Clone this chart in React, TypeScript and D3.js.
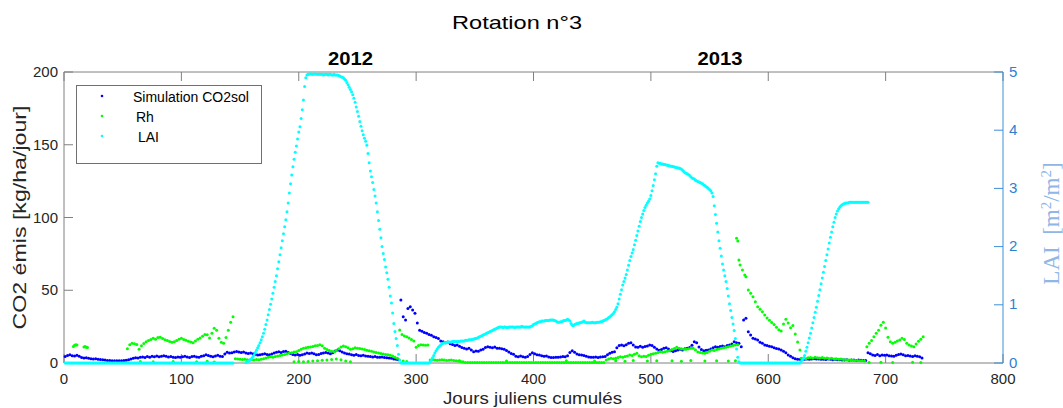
import React from 'react';
import * as d3 from 'd3';

// ---------- axes / labels ----------
const xTicks = [0, 100, 200, 300, 400, 500, 600, 700, 800];
const yLeftTicks = [0, 50, 100, 150, 200];
const yRightTicks = [0, 1, 2, 3, 4, 5];
const titleText = 'Rotation n°3';
const yearLabels = [
  { label: '2012', day: 244 },
  { label: '2013', day: 559 },
];
const legendLabels = ['Simulation CO2sol', 'Rh', 'LAI'];

// ---------- Simulation CO2sol (kg/ha/jour), every 2 days ----------
const co2solA = { start: 1, step: 2, values: [
  4.5,5.2,5.6,5.0,4.8,5.4,4.6,3.8,3.4,3.6,
  3.2,3.0,2.8,2.9,2.6,2.4,2.2,2.0,1.8,1.7,
  1.6,1.5,1.6,1.5,1.6,1.7,1.9,2.3,2.8,3.2,
  3.6,3.4,3.9,4.2,3.8,4.4,4.0,4.6,4.3,4.8,
  4.3,4.6,5.0,4.7,4.2,4.5,4.0,3.7,4.1,3.9] };
const co2solB = { start: 101, step: 2, values: [
  4.3,4.6,4.1,3.8,4.4,4.7,4.2,4.0,4.6,5.0,
  5.6,5.2,4.6,4.3,4.8,5.4,4.6,4.4,6.2,7.4,
  6.8,7.0,7.5,7.9,7.6,7.2,7.5,6.8,6.6,6.9,
  6.3,5.8,5.5,5.6,6.0,6.4,5.9,5.6,6.2,6.8,
  7.4,7.8,7.2,7.9,8.0,7.3,6.6,5.8,5.5,5.9] };
const co2solC = { start: 201, step: 2, values: [
  5.4,5.6,6.2,6.8,6.5,6.9,6.4,5.6,5.8,6.6,
  6.9,7.3,6.8,6.4,7.0,8.2,8.9,8.4,7.6,6.8,
  6.4,6.1,5.6,5.4,5.8,5.2,5.0,5.3,4.8,4.7,
  4.5,4.2,4.4,4.0,3.9,4.2,3.8,3.6,3.5,3.2,
  2.8,2.5,2.3,43.3,31.8,29.5,37.5,38.7,36.5,34.2] };
const co2solD = { start: 301, step: 2, values: [
  27.5,22.5,21.8,21.0,20.4,19.6,19.0,18.0,17.5,16.8,
  15.2,14.6,14.0,14.4,13.2,12.8,12.0,12.4,11.5,10.6,
  10.2,9.6,10.1,9.0,7.8,8.3,8.0,8.9,9.5,10.6,
  11.2,10.8,10.4,11.0,10.2,10.1,9.8,9.4,8.6,7.5,
  6.6,6.0,4.6,4.3,4.8,4.3,3.9,4.5,5.8,7.0] };
const co2solE = { start: 401, step: 2, values: [
  6.4,5.6,5.5,5.0,4.6,4.8,4.2,3.8,3.7,4.0,
  3.9,4.2,4.4,4.3,5.0,7.2,8.5,7.4,6.2,5.6,
  5.5,5.2,4.6,4.2,4.0,3.9,4.1,3.8,4.2,4.3,
  4.5,5.6,6.7,7.4,7.8,10.5,12.0,12.4,11.8,12.6,
  13.6,14.0,12.4,11.0,10.8,11.5,10.8,11.4,11.7,12.4] };
const co2solF = { start: 501, step: 2, values: [
  12.0,10.8,9.6,8.7,9.2,10.1,10.5,9.6,8.4,7.9,
  8.5,8.9,9.4,9.0,9.8,10.1,10.6,12.2,14.6,14.0,
  11.0,9.2,8.5,8.8,9.0,9.6,10.4,11.2,10.8,11.4,
  11.7,11.2,12.0,12.4,13.0,14.6,14.0,13.5,11.2,29.5,
  30.7,21.5,19.2,17.0,16.5,15.8,14.2,13.5,12.4,12.0] };
const co2solG = { start: 601, step: 2, values: [
  11.5,11.2,10.4,10.0,9.6,8.9,8.0,7.0,5.5,4.6,
  3.6,3.0,2.6,2.5,2.4,2.6,2.8,2.5,2.7,2.9,
  2.7,2.8,2.5,2.6,2.4,2.7,2.5,2.3,2.5,2.2,
  2.3,2.1,2.0,2.2,1.9,2.0,2.1,1.8,2.0,1.9,
  1.8,1.7,7.1,6.4,5.5,5.2,5.8,5.0,5.5,5.3] };
const co2solH = { start: 701, step: 2, values: [
  5.5,5.0,4.8,4.6,5.4,5.8,6.2,5.6,4.9,5.2,
  4.8,4.5,5.0,4.6,4.3,3.4] };
const co2solSeries = [co2solA, co2solB, co2solC, co2solD, co2solE, co2solF, co2solG, co2solH];

// ---------- Rh (kg/ha/jour) ----------
const rhA = { start: 8, step: 1, values: [11.4,12.2,12.6,12.4] };
const rhB = { start: 17, step: 1, values: [11.0,11.3,10.8,10.6] };
const rhC = { start: 54, step: 2, values: [
  9.8,12.6,13.6,13.2,12.8,9.4,11.8,13.4,14.6,15.4,
  16.2,17.0,16.4,17.6,17.7,16.8,16.0,15.4,14.8,14.2,
  14.6,15.4,16.4,17.0,16.2,15.6,15.0,14.4,14.0,15.2,
  16.4,17.2,18.4,19.6,19.4,17.2,20.5,23.8,22.5,17.0,
  14.2,13.5,17.6,22.5,28.0,31.8] };
const rhD = { start: 146, step: 2, values: [
  3.0,2.8,2.6,2.4,2.6,2.2,2.0,2.3,2.1,2.4,
  2.2,2.6,3.0,3.4,3.9,4.3,4.0,4.5,4.8,5.2,
  5.5,5.8,6.3,6.8,7.0,7.6,7.8,8.6,9.4,10.1,
  10.4,10.8,11.0,11.4,11.8,12.0,12.6,11.8,10.1,9.2,
  8.6,8.0,7.8,8.6,9.8,11.0,11.7,11.2,10.4,9.4,
  9.8,10.4,10.1,10.0,9.6,9.2,8.8,8.5,8.0,7.6,
  7.2,6.8,6.5,6.2,5.9,5.6,5.4,4.8,4.0,3.2] };
const rhE = { start: 196, step: 4, values: [0.8,1.0,0.9,1.0,1.3,1.6,1.9,2.1,2.4,2.7,2.2,1.4,0.9] };
const rhF = { start: 286, step: 2, values: [22.7,19.6,18.6,18.0,17.2,16.2,15.2,10.8,12.0,12.6,12.4,12.2,12.4] };
const rhG = { start: 312, step: 2, values: [2.0,2.2,2.1,1.9,2.0,2.2,2.1,1.8,1.9,2.0,1.7,1.5,1.3,1.0,0.8] };
const rhH = { start: 342, step: 2, values: [
  0.4,0.3,0.3,0.4,0.3,0.3,0.3,0.4,0.3,0.3,
  0.3,0.4,0.3,0.3,0.3,0.3,0.4,0.3,0.3,0.3,
  0.3,0.3,0.4,0.3,0.3,0.3,0.3,0.3,0.4,0.3,
  0.3,0.3,0.3,0.4,0.3,0.3,0.3,0.3,0.3,0.4,
  0.3,0.3,0.3,0.3,0.4,0.3,0.3,0.3,0.3,0.3,
  0.4,0.3,0.3,0.3,0.3,0.4,0.3,0.3,0.3,0.3] };
const rhI = { start: 462, step: 2, values: [
  2.1,2.8,3.2,3.0,3.3,3.8,4.3,4.0,4.4,4.8,
  5.5,5.2,6.0,6.7,5.0,4.3,4.6,4.4,5.4,6.0,
  6.4,6.7,7.2,7.8,7.4,7.8,8.0,8.5,9.2,10.0,
  10.8,10.2,9.8,9.4,9.4,9.8,10.1,10.1,9.0,7.6,
  7.2,6.8,6.7,7.2,8.0,8.9,8.6,9.2,9.6,10.1,
  10.4,10.8,11.2,11.7,12.0,12.4,12.6] };
const rhK = { start: 628, step: 2, values: [
  3.2,3.4,3.0,3.6,3.8,3.5,3.9,3.6,3.4,3.8,
  3.2,3.4,3.0,3.2,2.8,3.0,2.6,2.8,2.4,2.2,
  2.0,2.1,1.9,1.8,1.7,1.6,1.5,1.4] };
const rhL = { start: 684, step: 2, values: [
  11.2,13.5,15.4,18.0,20.5,22.5,26.0,28.0,24.0,17.7,
  14.6,13.5,14.2,15.2,15.8,17.0,16.2,13.5,12.4,11.6,
  11.2,13.0,15.0,16.4,18.0] };
const rhJDays = [573,574,575,576,578,580,581,583,585,587,589,591,593,595,597,599,601,603,605,607,609,611,613,615,617,619,621,623,625,627];
const rhJVals = [85.7,83.8,70.8,67.4,63.9,60.5,59.3,50.2,48.0,45.6,42.1,38.7,37.0,35.2,33.0,31.0,29.4,27.8,26.5,24.6,22.8,22.0,26.8,30.0,27.5,24.2,25.8,20.0,14.5,9.0];
const rhLowDays = [65,76,93,113,122,128,289,292,337,377,428,452,470,478,485,497,505,518,526,534,546,556,566,572,686,696,706,723,730];
const rhLowVals = [1.0,0.8,1.1,0.9,1.2,0.7,1.4,1.0,1.6,1.4,1.5,1.3,1.6,1.2,1.8,1.4,1.5,1.6,1.2,1.8,1.4,1.6,1.3,1.5,0.4,0.5,0.4,0.5,0.4];
const rhSeries = [rhA, rhB, rhC, rhD, rhE, rhF, rhG, rhH, rhI, rhK, rhL];

// ---------- LAI (m2/m2), daily ----------
const laiA = { start: 1, step: 1, values: [
  0,0,0,0,0,0,0,0,0,0, 0,0,0,0,0,0,0,0,0,0, 0,0,0,0,0,0,0,0,0,0,
  0,0,0,0,0,0,0,0,0,0, 0,0,0,0,0,0,0,0,0,0, 0,0,0,0,0,0,0,0,0,0,
  0,0,0,0,0,0,0,0,0,0, 0,0,0,0,0,0,0,0,0,0, 0,0,0,0,0,0,0,0,0,0,
  0,0,0,0,0,0,0,0,0,0, 0,0,0,0,0,0,0,0,0,0, 0,0,0,0,0,0,0,0,0,0,
  0,0,0,0,0,0,0,0,0,0, 0,0,0,0,0,0,0,0,0,0, 0,0,0,0] };
const laiB = { start: 155, step: 1, values: [
  0.01,0.02,0.03,0.04,0.06,0.08,0.11,0.14,0.18,0.22,
  0.26,0.3,0.35,0.4,0.45,0.51,0.58,0.66,0.74,0.83,
  0.92,1.01,1.1,1.2,1.3,1.4,1.5,1.62,1.74,1.86,
  1.98,2.1,2.22,2.34,2.46,2.6,2.75,2.92,3.08,3.23,
  3.37,3.5,3.62,3.73,3.85,3.97,4.06,4.2,4.35,4.52,
  4.75,4.9,4.95] };
const laiC = { start: 208, step: 1, values: [
  4.96,4.96,4.97,4.96,4.96,4.96,4.97,4.96,4.96,4.96,
  4.96,4.96,4.96,4.95,4.96,4.96,4.96,4.95,4.96,4.96,
  4.95,4.95,4.96,4.95,4.95] };
const laiD = { start: 233, step: 1, values: [
  4.95,4.94,4.93,4.92,4.91,4.9,4.88,4.86,4.82,4.78,
  4.74,4.7,4.66,4.61,4.55,4.48,4.4,4.32,4.24,4.15,
  4.07,3.99,3.92,3.86,3.81,3.74,3.6,3.44,3.3,3.2,
  3.1,2.98,2.87,2.75,2.6,2.45,2.3,2.15,2.0,1.88,
  1.78,1.65,1.55,1.44,1.3,1.15,1.03,0.86,0.68,0.54,
  0.42,0.3,0.15,0.05,0] };
const laiE = { start: 288, step: 1, values: [
  0,0,0,0,0,0,0,0,0,0, 0,0,0,0,0,0,0,0,0,0, 0,0,0,0] };
const laiF = { start: 312, step: 1, values: [
  0.02,0.05,0.09,0.13,0.17,0.21,0.24,0.27,0.29,0.31,
  0.33,0.34,0.35,
  0.35,0.35,0.36,0.36,0.36,0.36,0.37,0.37,0.37,0.37,
  0.37,0.37,0.37,0.38,0.38,0.38,0.38,0.39,0.39,0.39,
  0.4,0.4,0.4,0.41,0.41,0.42,0.42,
  0.43,0.44,0.45,0.46,0.47,0.48,0.49,0.5,0.51,0.52,
  0.53,0.54,0.55,0.56,0.57,0.58,0.59,0.6,0.61,0.62] };
const laiG = { start: 372, step: 1, values: [
  0.62,0.62,0.61,0.62,0.62,0.61,0.61,0.62,0.62,0.62,
  0.62,0.62,0.61,0.62,0.62,0.62,0.62,0.62,0.63,0.62,
  0.62,0.62,0.62,0.62,0.62,0.62,
  0.63,0.64,0.66,0.67,0.68,0.69,0.7,0.71,0.71,0.72,
  0.72,0.72,0.73,0.73,0.73,0.73,0.74,0.74,0.74,0.74,
  0.73,0.72,0.71,0.7,0.7,0.71,0.71,0.72,0.73,0.73,
  0.74,0.75,0.74,0.72,0.68,0.65,0.64,0.66,0.67,0.68,
  0.68,0.69,0.69,0.7,0.71,0.72,0.7,0.69,
  0.69,0.69,0.69,0.69,0.7,0.69,0.69,0.69,0.7,0.7,0.7] };
const laiH = { start: 457, step: 1, values: [
  0.71,0.71,0.72,0.73,0.74,0.75,0.76,0.78,0.79,0.81,
  0.83,0.85,0.88,0.92,0.96,1.02,1.1,1.18,1.26,1.34,
  1.4,1.46,1.52,1.6,1.68,1.76,1.83,1.89,1.95,2.03,
  2.11,2.19,2.27,2.35,2.43,2.5,2.56,2.62,2.67,2.71,
  2.75,2.78,2.82,2.88,2.96,3.05,3.15,3.25,3.38,3.44] };
const laiI = { start: 507, step: 1, values: [
  3.43,3.43,3.42,3.42,3.41,3.41,3.4,3.4,3.39,3.39,
  3.38,3.38,3.37,3.37,3.36,3.36,3.35,3.35,3.34,3.33,
  3.31,3.29,3.27,3.26,3.25,3.24,3.22,3.2,3.18,3.17,
  3.16,3.14,3.13,3.12,3.11,3.1,3.09,3.08,3.06,3.05,
  3.03,3.02,3.0,2.98,2.96,2.92,2.86,
  2.7,2.55,2.4,2.25,2.1,1.97,1.84,1.7,1.6,1.5,
  1.4,1.28,1.15,1.02,0.9,0.78,0.67,0.56,0.42,0.24,
  0.1,0.02] };
const laiJ = { start: 576, step: 1, values: [
  0,0,0,0,0,0,0,0,0,0, 0,0,0,0,0,0,0,0,0,0, 0,0,0,0,0,0,0,0,0,0,
  0,0,0,0,0,0,0,0,0,0, 0,0,0,0,0,0,0,0,0,0, 0,0] };
const laiK = { start: 628, step: 1, values: [
  0.02,0.05,0.08,0.13,0.2,0.27,0.35,0.43,0.51,0.6,
  0.69,0.78,0.87,0.96,1.06,1.16,1.26,1.36,1.46,1.56,
  1.66,1.76,1.86,1.96,2.06,2.16,2.25,2.34,2.42,2.5,
  2.56,2.61,2.65,2.68,2.7,2.72,2.73,2.74,2.75,2.75,
  2.75,2.76,2.76,2.76,2.76,2.76,2.76,2.76,2.76,2.76,
  2.76,2.76,2.76,2.76,2.76,2.76,2.76,2.76] };
const laiSeries = [laiA, laiB, laiC, laiD, laiE, laiF, laiG, laiH, laiI, laiJ, laiK];

// ---------- helpers ----------
type Seg = { start: number; step: number; values: number[] };
const expand = (segs: Seg[]) =>
  segs.flatMap((s) => s.values.map((v, i) => [s.start + i * s.step, v] as [number, number]));

const BLUE = '#0000ff';
const GREEN = '#00ff00';
const CYAN = '#00ffff';
const AXIS_GRAY = '#808080';
const TEXT_DARK = '#262626';
const RIGHT_BLUE = '#3d8fd9';
const RIGHT_TEXT = '#2f7fcf';
const LAI_LABEL = '#8fb6e6';
const FONT = '"Liberation Sans", Arial, Helvetica, sans-serif';

export default function App() {
  const left = 64, right = 1003, top = 72, bottom = 363;
  const x = d3.scaleLinear().domain([0, 800]).range([left, right]);
  const yL = d3.scaleLinear().domain([0, 200]).range([bottom, top]);
  const yR = d3.scaleLinear().domain([0, 5]).range([bottom, top]);
  const tick = 9;
  const r = 1.5;

  const co2Pts = expand(co2solSeries);
  const rhPts = [
    ...expand(rhSeries),
    ...rhJDays.map((d, i) => [d, rhJVals[i]] as [number, number]),
    ...rhLowDays.map((d, i) => [d, rhLowVals[i]] as [number, number]),
  ];
  const laiPts = expand(laiSeries);

  return (
    <svg
      width={1063}
      height={408}
      style={{ position: 'absolute', left: 0, top: 0, background: '#fff' }}
      fontFamily={FONT}
    >
      <rect x={0} y={0} width={1063} height={408} fill="#fff" />
      {/* title and year labels */}
      <text x={517} y={29} textAnchor="middle" fontSize={19} fill="#000" textLength={130} lengthAdjust="spacingAndGlyphs">{titleText}</text>
      {yearLabels.map((yl) => (
        <text key={yl.label} x={x(yl.day)} y={65} textAnchor="middle" fontSize={19} fontWeight="bold" fill="#000" textLength={45} lengthAdjust="spacingAndGlyphs">
          {yl.label}
        </text>
      ))}

      {/* box lines */}
      <line x1={left} x2={right} y1={top} y2={top} stroke={AXIS_GRAY} />
      <line x1={left} x2={right} y1={bottom} y2={bottom} stroke={AXIS_GRAY} />
      <line x1={left} x2={left} y1={top} y2={bottom} stroke={AXIS_GRAY} />

      {/* x ticks (bottom and top) */}
      {xTicks.map((t) => (
        <g key={'x' + t}>
          <line x1={x(t)} x2={x(t)} y1={bottom} y2={bottom - tick} stroke={AXIS_GRAY} />
          <line x1={x(t)} x2={x(t)} y1={top} y2={top + tick} stroke={AXIS_GRAY} />
          <text x={x(t)} y={384} textAnchor="middle" fontSize={15} fill={TEXT_DARK}>{t}</text>
        </g>
      ))}
      {/* left ticks */}
      {yLeftTicks.map((t) => (
        <g key={'yl' + t}>
          <line x1={left} x2={left + tick} y1={yL(t)} y2={yL(t)} stroke={AXIS_GRAY} />
          <text x={58} y={yL(t) + 5} textAnchor="end" fontSize={15} fill={TEXT_DARK}>{t}</text>
        </g>
      ))}

      {/* series */}
      <g>
        {co2Pts.map(([d, v], i) => (
          <circle key={'c' + i} cx={x(d)} cy={yL(v)} r={r} fill={BLUE} />
        ))}
      </g>
      <g>
        {rhPts.map(([d, v], i) => (
          <circle key={'r' + i} cx={x(d)} cy={yL(v)} r={r} fill={GREEN} />
        ))}
      </g>
      <g>
        {laiPts.map(([d, v], i) => (
          <circle key={'l' + i} cx={x(d)} cy={yR(v)} r={r} fill={CYAN} />
        ))}
      </g>

      {/* right axis */}
      <line x1={right} x2={right} y1={top} y2={bottom} stroke={RIGHT_BLUE} />
      {yRightTicks.map((t) => (
        <g key={'yr' + t}>
          <line x1={right} x2={right - tick} y1={yR(t)} y2={yR(t)} stroke={RIGHT_BLUE} />
          <text x={1009} y={yR(t) + 4.5} textAnchor="start" fontSize={15} fill={RIGHT_TEXT}>{t}</text>
        </g>
      ))}

      {/* axis labels */}
      <text x={532.5} y={404} textAnchor="middle" fontSize={17} fill={TEXT_DARK} textLength={179} lengthAdjust="spacingAndGlyphs">Jours juliens cumulés</text>
      <text
        transform={`translate(26, ${(top + bottom) / 2}) rotate(-90)`}
        textAnchor="middle"
        fontSize={18}
        fill={TEXT_DARK}
        textLength={224}
        lengthAdjust="spacingAndGlyphs"
      >
        CO2 émis [kg/ha/jour]
      </text>
      <text
        transform={`translate(1059, 223.5) rotate(-90)`}
        textAnchor="middle"
        fontSize={23}
        fontFamily={'"Liberation Serif", "Times New Roman", serif'}
        fill={LAI_LABEL}
      >
        LAI{'\u00a0\u00a0'}[m<tspan fontSize={15} dy={-8}>2</tspan><tspan dy={8}>/m</tspan><tspan fontSize={15} dy={-8}>2</tspan><tspan dy={8}>]</tspan>
      </text>

      {/* legend */}
      <rect x={76.5} y={85.5} width={185} height={78} fill="#fff" stroke="#707070" />
      {[BLUE, GREEN, CYAN].map((c, i) => (
        <circle key={'lg' + i} cx={102} cy={96 + i * 20} r={1.3} fill={c} />
      ))}
      <text x={133} y={102} fontSize={14} fill="#000">{legendLabels[0]}</text>
      <text x={136} y={122} fontSize={14} fill="#000">{legendLabels[1]}</text>
      <text x={138} y={142} fontSize={14} fill="#000">{legendLabels[2]}</text>
    </svg>
  );
}
